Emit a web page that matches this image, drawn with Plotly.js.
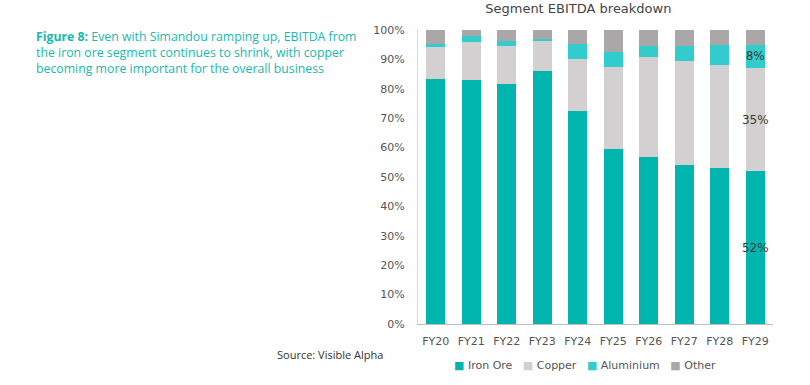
<!DOCTYPE html>
<html><head><meta charset="utf-8">
<script src="https://cdn.plot.ly/plotly-3.0.1.min.js"></script>
<style>html,body{margin:0;padding:0;background:#fff;}#chart{width:810px;height:385px;}</style>
</head><body><div id="chart"></div>
<script>
const years = ["FY20","FY21","FY22","FY23","FY24","FY25","FY26","FY27","FY28","FY29"];
const seriesNames = ["Iron Ore","Copper","Aluminium","Other"];
const ironOre   = [83.4, 83.0, 81.5, 85.9, 72.4, 59.5, 56.8, 54.1, 53.0, 52];
const copper    = [10.9, 13.0, 13.2, 10.3, 17.7, 27.8, 33.9, 35.3, 35.1, 35];
const aluminium = [1.1, 1.8, 1.4, 0.7, 5.0, 5.2, 3.9, 5.2, 6.7, 8];
const other     = [4.6, 2.2, 3.9, 3.1, 4.9, 7.5, 5.4, 5.4, 5.2, 5];
const labelledYear = "FY29";
const labelledSeries = ["Iron Ore","Copper","Aluminium"];

const colors = ["#00B5AD","#D2D0D0","#33CCCC","#A9A7A7"];
const values = [ironOre, copper, aluminium, other];
const FONT = "DejaVu Sans";

const data = seriesNames.map((name, k) => ({
  type:"bar", name:name, x:years, y:values[k], marker:{color:colors[k]},
  text: values[k].map((v,i)=> (years[i]===labelledYear && labelledSeries.includes(name)) ? Math.round(v)+"%" : ""),
  textposition:"inside", insidetextanchor:"middle", textangle:0, constraintext:"none", cliponaxis:false,
  textfont:{family:FONT, size:12, color:"#3a3a3a"},
  hoverinfo:"none", showlegend:false
}));

const tickFont = {family:FONT, size:11, color:"#555"};
const legendText = seriesNames.map((n,k)=> `<span style="color:${colors[k]}">■</span> ${n}`).join("   ");

const layout = {
  width:810, height:385, barmode:"stack", bargap:0.47,
  margin:{l:418, r:37, t:30, b:61},
  paper_bgcolor:"#fff", plot_bgcolor:"#fff",
  font:{family:FONT, color:"#555"},
  title:{text:"Segment EBITDA breakdown", font:{family:FONT, size:13, color:"#444"}, x:0.714, xanchor:"center", y:0.978, yanchor:"middle"},
  xaxis:{type:"category", tickfont:tickFont, showline:true, linecolor:"#bfbfbf", linewidth:1, ticks:"", showgrid:false, range:[-0.5,9.5], fixedrange:true, ticklabelstandoff:7},
  yaxis:{range:[0,100], dtick:10, ticksuffix:"%", tickfont:tickFont, showline:true, linecolor:"#d9d9d9", showgrid:false, zeroline:false, ticks:"", fixedrange:true, ticklabelstandoff:10},
  showlegend:false,
  annotations:[
    {xref:"paper", yref:"paper", x:-1.081, y:1.012, xanchor:"left", yanchor:"top", align:"left", showarrow:false,
     text:"<b>Figure 8:</b> Even with Simandou ramping up, EBITDA from<br>the iron ore segment continues to shrink, with copper<br>becoming more important for the overall business",
     font:{family:"Open Sans", size:12.3, color:"#1AB8AE"}},
    {xref:"paper", yref:"paper", x:-0.403, y:-0.07, xanchor:"left", yanchor:"top", align:"left", showarrow:false,
     text:"Source: Visible Alpha", font:{family:"Open Sans", size:11, color:"#333"}},
    {xref:"paper", yref:"paper", x:0.096, y:-0.111, xanchor:"left", yanchor:"top", align:"left", showarrow:false,
     text:legendText, font:{family:FONT, size:11, color:"#555"}}
  ]
};
Plotly.newPlot("chart", data, layout, {displayModeBar:false, staticPlot:true});
</script></body></html>
